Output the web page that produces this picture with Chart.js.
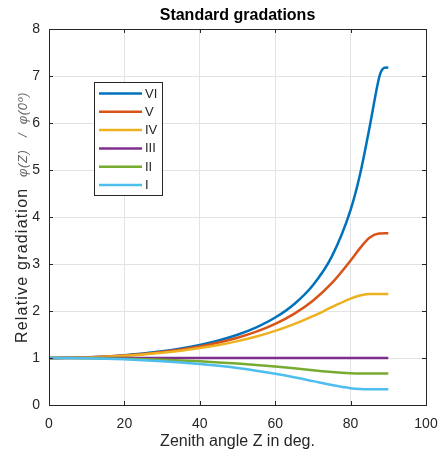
<!DOCTYPE html>
<html>
<head>
<meta charset="utf-8">
<script src="https://cdn.jsdelivr.net/npm/chart.js@4.4.1/dist/chart.umd.min.js"></script>
<style>
  html, body { margin: 0; padding: 0; background: #fff; }
  #chart { display: block; }
</style>
</head>
<body>
<canvas id="chart" width="438" height="455"></canvas>
<script>
// zenith angles (deg) and relative gradation phi(Z)/phi(0)
const zenith = [0, 5, 10, 15, 20, 25, 30, 35, 40, 45, 50, 55, 60, 65, 70, 75, 80, 82.5, 85, 87.5, 88, 89, 90];
const gradVI  = [1, 1.0035, 1.0143, 1.0326, 1.0592, 1.0951, 1.1417, 1.2013, 1.2767, 1.3722, 1.4942, 1.6521, 1.8607, 2.1450, 2.5489, 3.1578, 4.1528, 4.9042, 5.8949, 6.9487, 7.0815, 7.1778, 7.1791];
const gradV   = [1, 1.0032, 1.0131, 1.0298, 1.0539, 1.0863, 1.1281, 1.1809, 1.2469, 1.3292, 1.4320, 1.5614, 1.7262, 1.9391, 2.2189, 2.5911, 3.0733, 3.3370, 3.5587, 3.6493, 3.6513, 3.6516, 3.6516];
const gradIV  = [1, 1.0029, 1.0115, 1.0262, 1.0473, 1.0754, 1.1112, 1.1560, 1.2109, 1.2779, 1.3592, 1.4577, 1.5770, 1.7205, 1.8904, 2.0815, 2.2642, 2.3288, 2.3595, 2.3638, 2.3638, 2.3638, 2.3638];
const gradIII = [1, 1, 1, 1, 1, 1, 1, 1, 1, 1, 1, 1, 1, 1, 1, 1, 1, 1, 1, 1, 1, 1, 1];
const gradII  = [1, 0.9990, 0.9959, 0.9908, 0.9835, 0.9738, 0.9615, 0.9465, 0.9283, 0.9067, 0.8813, 0.8517, 0.8179, 0.7801, 0.7402, 0.7027, 0.6766, 0.6708, 0.6693, 0.6692, 0.6692, 0.6692, 0.6692];
const gradI   = [1, 0.9982, 0.9929, 0.9838, 0.9708, 0.9536, 0.9317, 0.9048, 0.8720, 0.8326, 0.7856, 0.7301, 0.6652, 0.5905, 0.5079, 0.4245, 0.3586, 0.3411, 0.3353, 0.3349, 0.3349, 0.3349, 0.3349];

const seriesNames = ['VI', 'V', 'IV', 'III', 'II', 'I'];
const seriesValues = [gradVI, gradV, gradIV, gradIII, gradII, gradI];
const seriesColors = ['#0072BD', '#D95319', '#EDB120', '#7E2F8E', '#77AC30', '#4DBEEE'];

const xTicks = [0, 20, 40, 60, 80, 100];
const yTicks = [0, 1, 2, 3, 4, 5, 6, 7, 8];

const axisColor = '#262626';
const textColor = '#262626';
const fontFamily = '"Liberation Sans", Arial, Helvetica, sans-serif';

// box, inward ticks, titles and legend in MATLAB style
const matlabAxes = {
    id: 'matlabAxes',
    afterDraw(chart) {
        const ctx = chart.ctx;
        const a = chart.chartArea;
        const xs = chart.scales.x, ys = chart.scales.y;
        ctx.save();

        // box
        ctx.strokeStyle = axisColor;
        ctx.lineWidth = 1;
        ctx.strokeRect(Math.round(a.left) + 0.5, Math.round(a.top) + 0.5,
            Math.round(a.right - a.left), Math.round(a.bottom - a.top));

        // inward tick marks
        const tl = 4;
        ctx.beginPath();
        xTicks.forEach(v => {
            const px = Math.round(xs.getPixelForValue(v)) + 0.5;
            ctx.moveTo(px, a.bottom); ctx.lineTo(px, a.bottom - tl);
            ctx.moveTo(px, a.top); ctx.lineTo(px, a.top + tl);
        });
        yTicks.forEach(v => {
            const py = Math.round(ys.getPixelForValue(v)) + 0.5;
            ctx.moveTo(a.left, py); ctx.lineTo(a.left + tl, py);
            ctx.moveTo(a.right, py); ctx.lineTo(a.right - tl, py);
        });
        ctx.stroke();

        // title
        ctx.fillStyle = '#000';
        ctx.font = 'bold 16px ' + fontFamily;
        ctx.textAlign = 'center';
        ctx.textBaseline = 'middle';
        ctx.fillText('Standard gradations', (a.left + a.right) / 2, 16);

        // x axis title
        ctx.fillStyle = textColor;
        ctx.font = '16px ' + fontFamily;
        ctx.fillText('Zenith angle Z in deg.', (a.left + a.right) / 2, 442);

        // y axis title (two parts)
        ctx.translate(27, 0);
        ctx.rotate(-Math.PI / 2);
        ctx.textAlign = 'left';
        ctx.textBaseline = 'alphabetic';
        ctx.font = '16px ' + fontFamily;
        ctx.letterSpacing = '1.2px';
        ctx.fillStyle = textColor;
        ctx.fillText('Relative gradiation', -343, 0);
        ctx.font = 'italic 13px ' + fontFamily;
        ctx.letterSpacing = '0.6px';
        ctx.fillStyle = '#666';
        ctx.fillText('\u03C6(Z)   /  \u03C6(0\u00BA)', -177, 0);
        ctx.letterSpacing = '0px';
        ctx.setTransform(1, 0, 0, 1, 0, 0);

        // legend
        const lx = 94, ly = 82, lw = 68, lh = 113;
        ctx.fillStyle = '#fff';
        ctx.fillRect(lx, ly, lw, lh);
        ctx.strokeStyle = axisColor;
        ctx.lineWidth = 1;
        ctx.strokeRect(lx + 0.5, ly + 0.5, lw, lh);
        ctx.font = '13px ' + fontFamily;
        ctx.textAlign = 'left';
        ctx.textBaseline = 'middle';
        seriesNames.forEach((name, i) => {
            const yy = 93.5 + i * 18.3;
            ctx.strokeStyle = seriesColors[i];
            ctx.lineWidth = 2.5;
            ctx.beginPath();
            ctx.moveTo(99, yy); ctx.lineTo(142, yy);
            ctx.stroke();
            ctx.fillStyle = textColor;
            ctx.fillText(name, 145, yy + 0.5);
        });
        ctx.restore();
    }
};

const ctx = document.getElementById('chart').getContext('2d');
new Chart(ctx, {
    type: 'line',
    data: {
        datasets: seriesNames.map((name, i) => ({
            label: name,
            data: zenith.map((z, k) => ({ x: z, y: seriesValues[i][k] })),
            borderColor: seriesColors[i],
            backgroundColor: seriesColors[i],
            borderWidth: 2.5,
            pointRadius: 0,
            fill: false,
            cubicInterpolationMode: 'monotone',
            order: seriesNames.length - i,
        })),
    },
    options: {
        responsive: false,
        animation: false,
        events: [],
        layout: { padding: { top: 29, right: 12, left: 0, bottom: 0 } },
        plugins: {
            legend: { display: false },
            title: { display: false },
            tooltip: { enabled: false },
        },
        scales: {
            x: {
                type: 'linear',
                min: 0,
                max: 100,
                afterFit: s => { s.height = 50; s.paddingLeft = 0; s.paddingRight = 0; },
                afterBuildTicks: s => { s.ticks = xTicks.map(v => ({ value: v })); },
                grid: { color: '#e3e3e3', drawTicks: false },
                border: { display: false },
                ticks: { color: textColor, font: { family: fontFamily, size: 14 }, padding: 11, maxRotation: 0 },
            },
            y: {
                type: 'linear',
                min: 0,
                max: 8,
                afterFit: s => { s.width = 49; s.paddingTop = 0; s.paddingBottom = 0; },
                afterBuildTicks: s => { s.ticks = yTicks.map(v => ({ value: v })); },
                grid: { color: '#e3e3e3', drawTicks: false },
                border: { display: false },
                ticks: { color: textColor, font: { family: fontFamily, size: 14 }, padding: 9 },
            },
        },
    },
    plugins: [matlabAxes],
});
</script>
</body>
</html>
